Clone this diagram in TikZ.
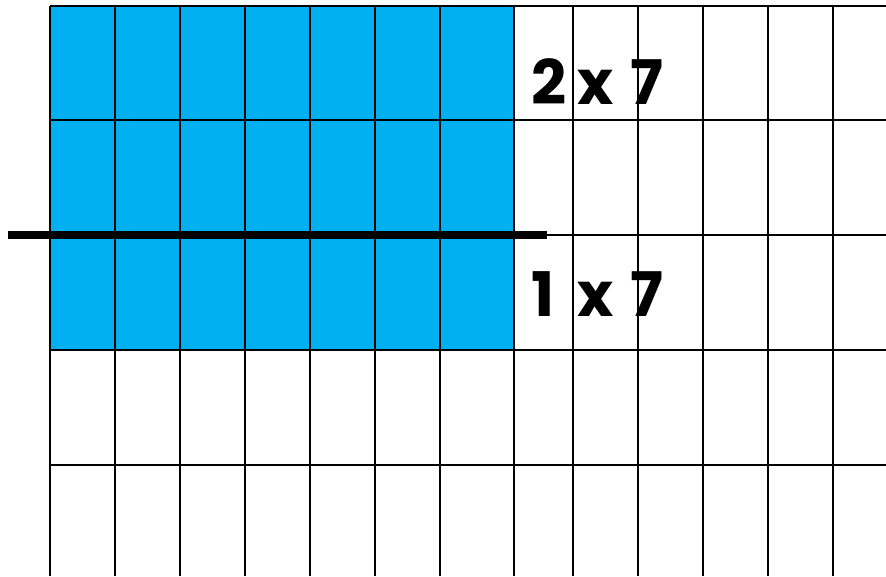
\documentclass[tikz,border=0pt]{standalone}
\usepackage{fontspec}
\newfontfamily\labelfont{Poppins}
\usetikzlibrary{positioning}
\definecolor{arrayblue}{RGB}{0,176,240}
% fixed places for the three characters of a label
\newcommand{\factorlabel}[2]{\makebox[26.2pt][l]{#1}\makebox[30.5pt][l]{x}#2}

\begin{document}
\begin{tikzpicture}[x=0.02cm, y=-0.02cm,
    gridline/.style={line width=1.1pt, black},
    splitline/.style={line width=4.5pt, black},
    factor/.style={anchor=base west, inner sep=0pt, font=\labelfont\bfseries\fontsize{35}{40}\selectfont}]
        \useasboundingbox (0,0) rectangle (886,576);
        % shaded 3 x 7 array
        \fill [arrayblue] (50,6) rectangle (514,350);
        % grid
        \foreach \gx in {50,115,180,245,310,375,440,514,573,638,703,768,833}
          \draw [gridline] (\gx,6) -- (\gx,576);
        \foreach \gy in {6,120,235,350,465}
          \draw [gridline] (50,\gy) -- (886,\gy);
        % split between the rows
        \coordinate (cutL) at (8,235);
        \coordinate (cutR) at (547,235);
        \draw [splitline] (cutL) -- (cutR);
        \node [factor] (top) at (531,104) {\factorlabel{2}{7}};
        \node [factor] (bottom) at (531,316) {\factorlabel{1}{7}};
      \end{tikzpicture}
\end{document}
